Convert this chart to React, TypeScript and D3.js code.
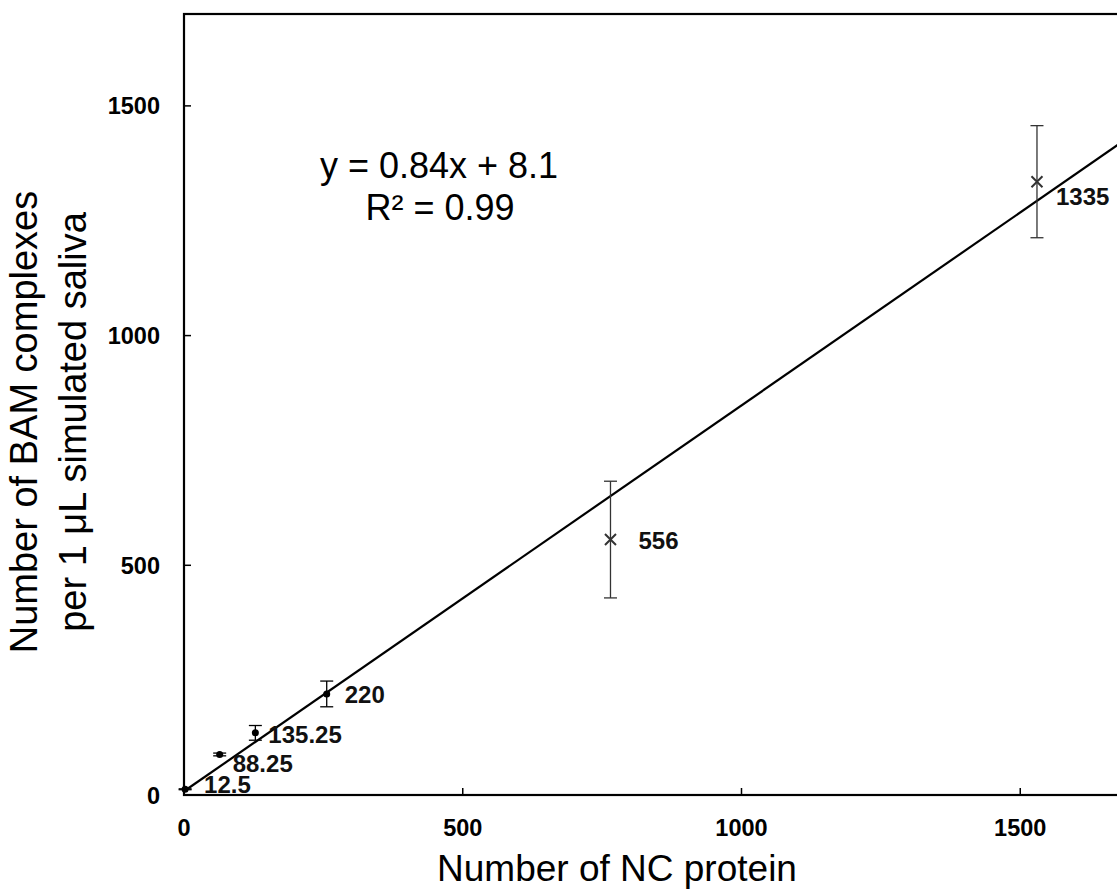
import React, { useEffect, useRef } from "react";
import * as d3 from "d3";

const ncProtein = [2, 64, 128, 256, 765, 1530];
const bamComplexes = [12.5, 88.25, 135.25, 220, 556, 1335];
const errorValues = [1, 3, 16, 28, 127, 122];
const markerTypes = ["dot", "dot", "dot", "dot", "x", "x"];
const pointLabels = ["12.5", "88.25", "135.25", "220", "556", "1335"];
const labelNudge: [number, number][] = [[19, 4], [13, 18], [13, 10], [18, 9], [28, 9], [19, 23]];
const xTicks = [0, 500, 1000, 1500];
const yTicks = [0, 500, 1000, 1500];
const trendSlope = 0.84;
const trendIntercept = 8.1;
const equationLines = ["y = 0.84x + 8.1", "R² = 0.99"];

const W = 1117;
const H = 893;
const FONT = "'Liberation Sans', Arial, sans-serif";

export default function App() {
  const ref = useRef<SVGSVGElement | null>(null);

  useEffect(() => {
    const svg = d3.select(ref.current);
    svg.selectAll("*").remove();

    const left = 184, bottom = 795, top = 14;
    const x = d3.scaleLinear().domain([0, 1700]).range([left, left + 1700 * 0.5575]);
    const y = d3.scaleLinear().domain([0, 1700]).range([bottom, top]);

    const g = svg.append("g");

    // frame
    g.append("rect")
      .attr("x", x(0)).attr("y", y(1700))
      .attr("width", x(1700) - x(0)).attr("height", y(0) - y(1700))
      .attr("fill", "none").attr("stroke", "#000").attr("stroke-width", 2.2);

    // ticks (inward)
    xTicks.filter(t => t > 0).forEach(t => {
      g.append("line").attr("x1", x(t)).attr("x2", x(t)).attr("y1", y(0)).attr("y2", y(0) - 7)
        .attr("stroke", "#000").attr("stroke-width", 1.5);
    });
    yTicks.filter(t => t > 0).forEach(t => {
      g.append("line").attr("x1", x(0)).attr("x2", x(0) + 7).attr("y1", y(t)).attr("y2", y(t))
        .attr("stroke", "#000").attr("stroke-width", 1.5);
    });

    // tick labels
    xTicks.forEach(t => {
      g.append("text").attr("x", x(t)).attr("y", 836).attr("text-anchor", "middle")
        .attr("font-family", FONT).attr("font-weight", "bold").attr("font-size", 23.5)
        .attr("fill", "#000").text(String(t));
    });
    yTicks.forEach(t => {
      g.append("text").attr("x", 160).attr("y", y(t) + 8.5).attr("text-anchor", "end")
        .attr("font-family", FONT).attr("font-weight", "bold").attr("font-size", 23.5)
        .attr("fill", "#000").text(String(t));
    });

    // trendline
    const line = d3.line<number>().x(d => x(d)).y(d => y(trendSlope * d + trendIntercept));
    g.append("path").datum([0, 1700]).attr("d", line)
      .attr("fill", "none").attr("stroke", "#000").attr("stroke-width", 2.2);

    // error bars and markers
    ncProtein.forEach((xv, i) => {
      const yv = bamComplexes[i];
      const e = errorValues[i];
      const px = x(xv), py = y(yv);
      const isX = markerTypes[i] === "x";
      const col = isX ? "#333" : "#000";
      const cap = 6.5;
      g.append("line").attr("x1", px).attr("x2", px).attr("y1", y(yv - e)).attr("y2", y(yv + e))
        .attr("stroke", col).attr("stroke-width", 1.3);
      [yv - e, yv + e].forEach(v => {
        g.append("line").attr("x1", px - cap).attr("x2", px + cap).attr("y1", y(v)).attr("y2", y(v))
          .attr("stroke", col).attr("stroke-width", 1.3);
      });
      if (isX) {
        const s = 5.5;
        g.append("path").attr("d", `M${px - s},${py - s}L${px + s},${py + s}M${px - s},${py + s}L${px + s},${py - s}`)
          .attr("stroke", "#333").attr("stroke-width", 2);
      } else {
        g.append("circle").attr("cx", px).attr("cy", py).attr("r", 3.5).attr("fill", "#000");
      }
      g.append("text").attr("x", px + labelNudge[i][0]).attr("y", py + labelNudge[i][1])
        .attr("font-family", FONT).attr("font-weight", "bold").attr("font-size", 24)
        .attr("fill", "#111").text(pointLabels[i]);
    });

    // equation
    g.append("text").attr("x", 439).attr("y", 178).attr("text-anchor", "middle")
      .attr("font-family", FONT).attr("font-size", 36).attr("fill", "#000").text(equationLines[0]);
    g.append("text").attr("x", 440).attr("y", 220).attr("text-anchor", "middle")
      .attr("font-family", FONT).attr("font-size", 36).attr("fill", "#000").text(equationLines[1]);

    // axis titles
    g.append("text").attr("x", 617).attr("y", 881).attr("text-anchor", "middle")
      .attr("font-family", FONT).attr("font-size", 37).attr("fill", "#000").text("Number of NC protein");
    const yt = g.append("text").attr("transform", "translate(0,422) rotate(-90)")
      .attr("text-anchor", "middle").attr("font-family", FONT).attr("font-size", 38).attr("fill", "#000");
    yt.append("tspan").attr("x", 0).attr("y", 37).text("Number of BAM complexes");
    yt.append("tspan").attr("x", 0).attr("y", 86).text("per 1 μL simulated saliva");
  }, []);

  return (
    <svg ref={ref} width={W} height={H}
      style={{ position: "absolute", left: 0, top: 0, overflow: "hidden", background: "#fff" }} />
  );
}
